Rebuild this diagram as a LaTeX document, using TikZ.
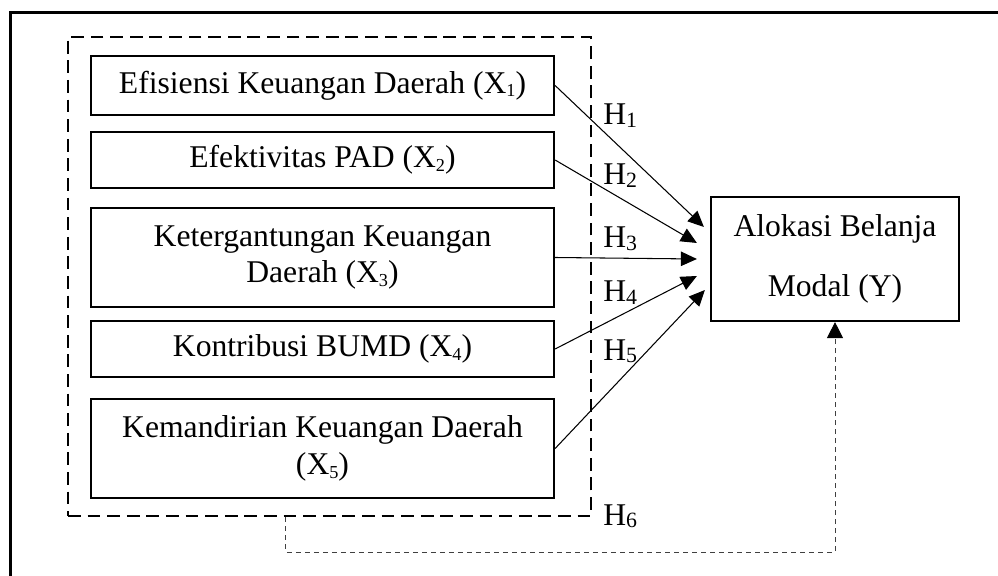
\documentclass[tikz,border=0pt]{standalone}
\usepackage{fontspec}
\setmainfont{Liberation Serif}
\usetikzlibrary{math,arrows.meta}
\newcommand{\xsub}[1]{\raisebox{-0.25ex}{\fontsize{13}{13}\selectfont #1}}
\newcommand{\hsub}[1]{\raisebox{-0.15ex}{\fontsize{15.5}{15.5}\selectfont #1}}

\begin{document}
\begin{tikzpicture}[x=0.025cm,y=-0.025cm,
    varbox/.style={draw, line width=1.5pt, minimum width=11.575cm, align=center, inner sep=0pt,
      font=\fontsize{22.5}{26}\selectfont},
    hlabel/.style={anchor=base west, inner sep=0pt, font=\fontsize{22.5}{26}\selectfont},
    link/.style={line width=0.75pt, -{Triangle[length=0.4cm,width=0.36cm]}},
    dlink/.style={line width=0.65pt, draw=black!75, dash pattern=on 0.125cm off 0.1cm,
      -{Triangle[length=0.4cm,width=0.4cm,color=black]}}]
  \tikzmath{\bx = 322.5; \ty = 835;}
  \useasboundingbox (0,0) rectangle (998,576);
  \draw[line width=2.4pt] (10.5,640) -- (10.5,12.5) -- (1040,12.5);
  \node[draw, line width=1.5pt, dash pattern=on 0.32cm off 0.17cm, minimum width=13.075cm,
    minimum height=11.975cm] (grp) at (329.5,276.5) {};
  \node[varbox, minimum height=1.475cm] (x1) at (\bx,85.5) {Efisiensi Keuangan Daerah (X\xsub{1})};
  \node[varbox, minimum height=1.4cm] (x2) at (\bx,160) {Efektivitas PAD (X\xsub{2})};
  \node[varbox, minimum height=2.475cm] (x3) at (\bx,257.5) {Ketergantungan Keuangan\\Daerah (X\xsub{3})};
  \node[varbox, minimum height=1.4cm] (x4) at (\bx,349) {Kontribusi BUMD (X\xsub{4})};
  \node[varbox, minimum height=2.475cm] (x5) at (\bx,448.5) {Kemandirian Keuangan Daerah\\(X\xsub{5})};
  \node[draw, line width=1.5pt, minimum width=6.2cm, minimum height=3.1cm, align=center,
    font=\fontsize{22.5}{43}\selectfont] (y) at (\ty,259) {Alokasi Belanja\\Modal (Y)};
  \foreach \i/\yy in {1/125,2/185,3/248,4/302,5/360,6/525}
    \node[hlabel] (h\i) at (603,\yy) {H\hsub{\i}};
  \foreach \i/\dx/\dy in {1/-0.15/0.8, 2/-0.325/0.4, 3/-0.325/0, 4/-0.325/-0.425, 5/-0.125/-0.775}
    \draw[link] (x\i.east) -- ([xshift=\dx cm, yshift=\dy cm]y.west);
  \draw[dlink] ([xshift=-1.09cm]grp.south) -- ++(0,35) -| (y.south);
\end{tikzpicture}
\end{document}
